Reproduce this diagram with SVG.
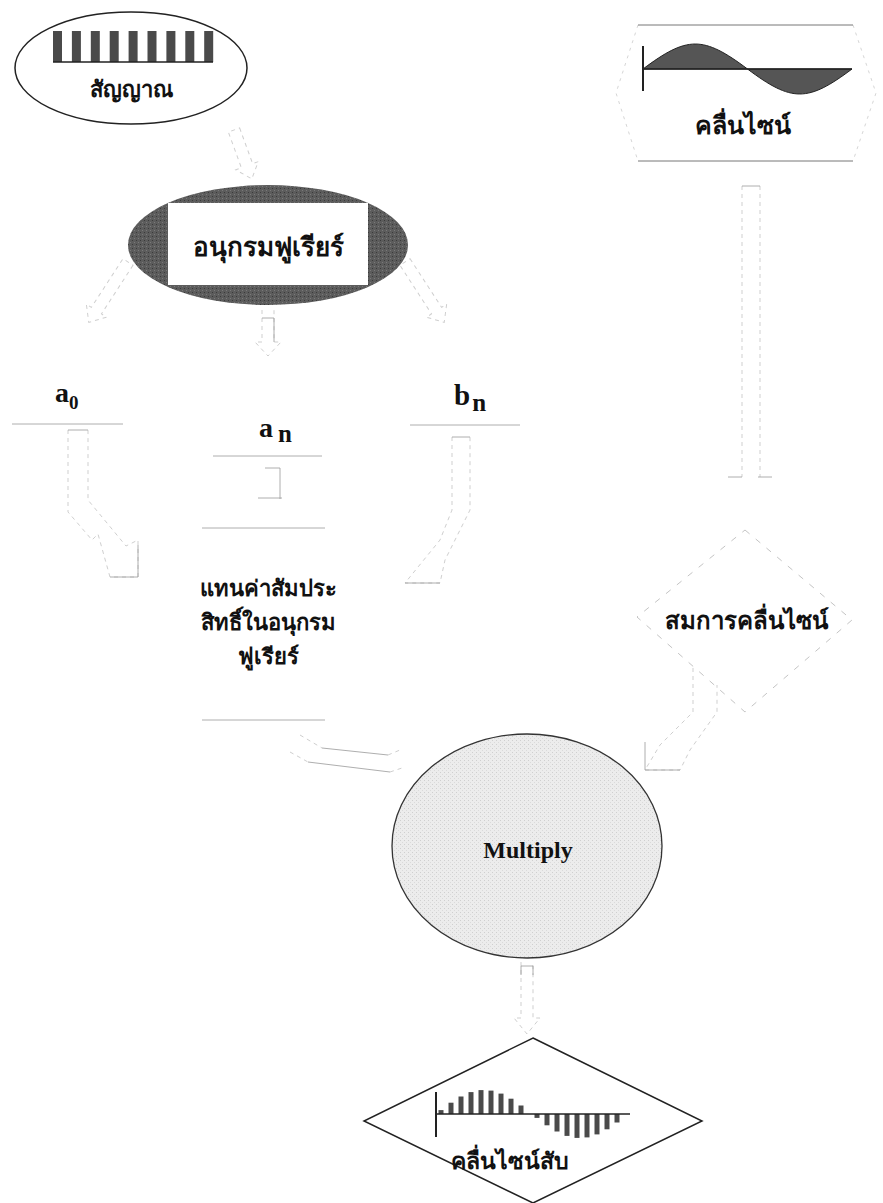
<svg xmlns="http://www.w3.org/2000/svg" width="883" height="1203" viewBox="0 0 883 1203">
<style>
.th{font-family:"Noto Sans","DejaVu Sans",sans-serif;font-weight:bold;fill:#111;text-anchor:middle}
.sr{font-family:"Liberation Serif",serif;font-weight:bold;fill:#111}
.ln{stroke:#444;stroke-width:1.2;fill:none}
.faint{stroke:#999;stroke-width:0.8;fill:none}
.ghost{stroke:#cfcfcf;stroke-width:1;fill:none;stroke-dasharray:4 4}
.bar{fill:#4a4a4a}
</style>
<defs>
<pattern id="dark" width="4" height="4" patternUnits="userSpaceOnUse">
<rect width="4" height="4" fill="#5c5c5c"/><rect width="1" height="1" fill="#3a3a3a"/><rect x="2" y="2" width="1" height="1" fill="#7a7a7a"/>
</pattern>
<pattern id="light" width="4" height="4" patternUnits="userSpaceOnUse">
<rect width="4" height="4" fill="#ececec"/><rect width="1" height="1" fill="#cfcfcf"/><rect x="2" y="2" width="1" height="1" fill="#dadada"/>
</pattern>
</defs>
<rect width="883" height="1203" fill="#ffffff"/>

<g id="connectors">
<path class="ghost" d="M0,-6 L38,-6 L38,-12 L52,0 L38,12 L38,6 L0,6 Z" transform="translate(234,130) rotate(70)"/>
<path class="ghost" d="M0,-6 L58,-6 L58,-12 L72,0 L58,12 L58,6 L0,6 Z" transform="translate(128,262) rotate(123)"/>
<path class="ghost" d="M0,-6 L58,-6 L58,-12 L72,0 L58,12 L58,6 L0,6 Z" transform="translate(405,262) rotate(57)"/>
<path class="ghost" d="M262,310 L262,342 L255,342 L268,356 L281,342 L274,342 L274,310"/>
<path class="faint" d="M262,318 L274,318 L274,342"/>
<path class="ghost" d="M68,430 L68,512 L92,540 L98,534 L110,577 L138,577 L138,540 L126,546 L88,500 L88,430"/>
<path class="faint" d="M68,430 L88,430 M110,577 L138,577 M138,545 L138,577"/>
<path class="faint" d="M265,468 L280,468 L280,499 M258,498 L282,498"/>
<path class="ghost" d="M452,437 L452,510 L440,540 L405,583 L440,583 L445,560 L470,510 L470,437"/>
<path class="faint" d="M452,437 L470,437 M405,583 L440,583"/>
<path class="ghost" d="M742,186 L742,477 M760,186 L760,477"/>
<path class="faint" d="M742,186 L760,186 M728,477 L742,477 M758,477 L772,477"/>
<path class="ghost" d="M693,668 L693,712 L660,745 L645,770 L680,770 L690,750 L717,712 L717,685"/>
<path class="faint" d="M645,770 L680,770 M645,742 L645,770"/>
<path class="faint" d="M322,748 L388,755 M308,762 L390,772"/>
<path class="ghost" d="M300,735 L322,748 M290,752 L308,762 M388,755 L400,750 M390,772 L402,768"/>
<path class="ghost" d="M521,962 L521,1018 L514,1018 L527,1034 L540,1018 L533,1018 L533,962"/>
<path class="faint" d="M521,975 L521,966 L533,966 L533,975"/>
</g>

<g id="signal">
<ellipse cx="131" cy="68" rx="116" ry="56" fill="#fff" stroke="#222" stroke-width="1.5"/>
<g class="bar">
<rect x="53" y="31" width="9" height="31"/><rect x="71.9" y="31" width="9" height="31"/><rect x="90.8" y="31" width="9" height="31"/>
<rect x="109.7" y="31" width="9" height="31"/><rect x="128.6" y="31" width="9" height="31"/><rect x="147.5" y="31" width="9" height="31"/>
<rect x="166.4" y="31" width="9" height="31"/><rect x="185.3" y="31" width="9" height="31"/><rect x="204.2" y="31" width="9" height="31"/>
</g>
<line x1="53" y1="62" x2="213" y2="62" stroke="#222" stroke-width="1.5"/>
<text class="th" x="131" y="97" font-size="22">สัญญาณ</text>
</g>

<g id="sine">
<path d="M638,25 L616,93 L638,161 M853,25 L876,93 L853,161" fill="none" stroke="#d6d6d6" stroke-width="1" stroke-dasharray="3 5"/>
<line x1="638" y1="25" x2="853" y2="25" stroke="#777" stroke-width="1"/>
<line x1="638" y1="161" x2="853" y2="161" stroke="#777" stroke-width="1"/>
<path d="M643,69 C687.3,35.7 703.2,35.7 747.5,69 C791.8,102.3 807.7,102.3 852,69 Z" fill="#555" stroke="#222" stroke-width="1"/>
<line x1="643" y1="69" x2="852" y2="69" stroke="#222" stroke-width="1.5"/>
<line x1="643" y1="46" x2="643" y2="91" stroke="#222" stroke-width="2"/>
<text class="th" x="743" y="134" font-size="25">คลื่นไซน์</text>
</g>

<g id="fourier">
<ellipse cx="268" cy="245" rx="140" ry="60" fill="url(#dark)"/>
<rect x="168" y="203" width="200" height="82" fill="#fff"/>
<text class="th" x="268" y="256" font-size="26">อนุกรมฟูเรียร์</text>
</g>

<g id="a0">
<text class="sr" x="55" y="402" font-size="28">a<tspan font-size="19" dy="7">0</tspan></text>
<line class="faint" x1="12" y1="424" x2="123" y2="424"/>
</g>

<g id="an">
<text class="sr" x="259" y="437" font-size="28">a<tspan font-size="25" dx="5" dy="5">n</tspan></text>
<line class="faint" x1="213" y1="456" x2="322" y2="456"/>
</g>

<g id="bn">
<text class="sr" x="454" y="405" font-size="29">b<tspan font-size="25" dx="2" dy="6">n</tspan></text>
<line class="faint" x1="410" y1="425" x2="520" y2="425"/>
</g>

<g id="coeff">
<line class="faint" x1="202" y1="528" x2="325" y2="528"/>
<text class="th" x="268" y="596" font-size="22">แทนค่าสัมประ</text>
<text class="th" x="268" y="630" font-size="22">สิทธิ์ในอนุกรม</text>
<text class="th" x="268" y="664" font-size="22">ฟูเรียร์</text>
<line class="faint" x1="202" y1="720" x2="325" y2="720"/>
</g>

<g id="equation">
<path d="M745,530 L852,620 L745,712 L637,617 Z" fill="none" stroke="#c4c4c4" stroke-width="1" stroke-dasharray="6 8"/>
<text class="th" x="746" y="629" font-size="24">สมการคลื่นไซน์</text>
</g>

<g id="multiply">
<ellipse cx="527" cy="846" rx="135" ry="112" fill="url(#light)" stroke="#333" stroke-width="1.3"/>
<text class="sr" x="528" y="858" font-size="24" text-anchor="middle">Multiply</text>
</g>

<g id="chopped">
<path d="M533,1038 L702,1121 L533,1203 L364,1121 Z" fill="#fff" stroke="#222" stroke-width="1.5"/>
<g class="bar">
<rect x="438.5" y="1110.1" width="5" height="3.9"/><rect x="448.5" y="1102.7" width="5" height="11.3"/>
<rect x="458.5" y="1096.5" width="5" height="17.5"/><rect x="468.5" y="1092.1" width="5" height="21.9"/>
<rect x="478.5" y="1090.1" width="5" height="23.9"/><rect x="488.5" y="1090.6" width="5" height="23.4"/>
<rect x="498.5" y="1093.6" width="5" height="20.4"/><rect x="508.5" y="1098.7" width="5" height="15.3"/>
<rect x="518.5" y="1105.5" width="5" height="8.5"/>
<rect x="534.5" y="1114" width="5" height="3.9"/><rect x="544.5" y="1114" width="5" height="11.3"/>
<rect x="554.5" y="1114" width="5" height="17.5"/><rect x="564.5" y="1114" width="5" height="21.9"/>
<rect x="574.5" y="1114" width="5" height="23.9"/><rect x="584.5" y="1114" width="5" height="23.4"/>
<rect x="594.5" y="1114" width="5" height="20.4"/><rect x="604.5" y="1114" width="5" height="15.3"/>
<rect x="614.5" y="1114" width="5" height="8.5"/>
</g>
<line x1="436" y1="1114" x2="630" y2="1114" stroke="#222" stroke-width="1.5"/>
<line x1="436" y1="1092" x2="436" y2="1137" stroke="#222" stroke-width="2"/>
<text class="th" x="510" y="1169" font-size="23">คลื่นไซน์สับ</text>
</g>
</svg>
